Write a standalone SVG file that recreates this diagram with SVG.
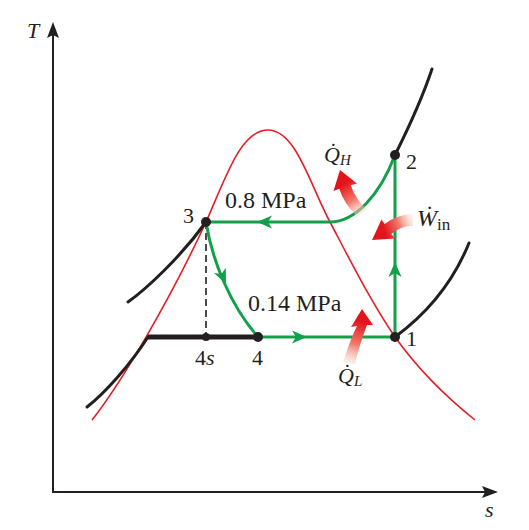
<svg xmlns="http://www.w3.org/2000/svg" xmlns:xlink="http://www.w3.org/1999/xlink" width="529" height="530" viewBox="0 0 529 530">
<style>
.ax{stroke:#231f20;stroke-width:2;fill:none}
.dome{stroke:#e31e24;stroke-width:1.6;fill:none}
.iso{stroke:#231f20;stroke-width:3;fill:none;stroke-linecap:round}
.grn{stroke:#13a04a;stroke-width:3;fill:none}
.lbl{font-family:"Liberation Serif",serif;font-size:22px;fill:#231f20}
.big{font-size:24px}
.it{font-style:italic}
.sub{font-size:15px}
</style>
<defs>
<path id="ah" d="M0,0 L-15,-6.5 L-11,0 L-15,6.5 Z" fill="#13a04a"/>
<linearGradient id="gQH" gradientUnits="userSpaceOnUse" x1="364" y1="215" x2="344" y2="184">
<stop offset="0" stop-color="#fbe3da" stop-opacity="0.3"/><stop offset="0.5" stop-color="#f07a6a"/><stop offset="1" stop-color="#e4141c"/></linearGradient>
<linearGradient id="gW" gradientUnits="userSpaceOnUse" x1="414" y1="218" x2="384" y2="230">
<stop offset="0" stop-color="#fbe3da" stop-opacity="0.3"/><stop offset="0.5" stop-color="#f07a6a"/><stop offset="1" stop-color="#e4141c"/></linearGradient>
<linearGradient id="gQL" gradientUnits="userSpaceOnUse" x1="348" y1="366" x2="362" y2="322">
<stop offset="0" stop-color="#fbe3da" stop-opacity="0.3"/><stop offset="0.5" stop-color="#f07a6a"/><stop offset="1" stop-color="#e4141c"/></linearGradient>
</defs>
<g id="axes">
<path class="ax" d="M53,30 L53,492 L490,492"/>
<path d="M53,22 L59,38 L53,35 L47,38 Z" fill="#231f20"/>
<path d="M498,492 L482,486 L485,492 L482,498 Z" fill="#231f20"/>
<text class="lbl it" x="27" y="38">T</text>
<text class="lbl it" x="485" y="517">s</text>
</g>
<g id="dome">
<path class="dome" d="M92,420 C120,385 170,300 206,222 C225,180 240,130 268,130 C296,130 310,185 330,222 C350,260 370,300 395,337 C420,372 450,400 475,420"/>
</g>
<g id="connectors">
<path class="iso" d="M128,302 C145,290 180,258 206,222"/>
<path class="iso" d="M87,407 C105,393 130,365 148,337"/>
<path class="iso" d="M395,337 C425,315 452,285 469,243"/>
<path class="iso" d="M395,155 C405,135 420,105 432,69"/>
<path d="M148,337 L258,337" stroke="#231f20" stroke-width="5" fill="none"/>
<path d="M206,222 L206,337" stroke="#231f20" stroke-width="1.6" stroke-dasharray="7,4" fill="none"/>
<path class="grn" d="M330,222 L206,222"/>
<path class="grn" d="M330,222 C355,222 380,195 395,155"/>
<path class="grn" d="M395,337 L395,155"/>
<path class="grn" d="M206,222 C212,260 230,305 258,337"/>
<path class="grn" d="M258,337 L395,337"/>
<use xlink:href="#ah" transform="translate(257,222) rotate(180)"/>
<use xlink:href="#ah" transform="translate(307,337)"/>
<use xlink:href="#ah" transform="translate(395,262) rotate(-90)"/>
<use xlink:href="#ah" transform="translate(226,284) rotate(66)"/>
</g>
<g id="heat-arrows">
<path d="M340,170 L333.5,191 L339.3,188.8 Q344,204 357.2,216.6 L366.8,209.4 Q355,198 350.7,185.2 L357,183.5 Z" fill="url(#gQH)"/>
<path d="M372,240 L381.5,219.5 L384.7,224 Q398,214 413,214 L413,226 Q402,225 391.3,234 L395,238.5 Z" fill="url(#gW)"/>
<path d="M362,309 L351,327 L357,326 Q349,342 343,363 L355,364 Q360,343 367,325 L373,325 Z" fill="url(#gQL)"/>
</g>
<g id="n3"><circle cx="206" cy="222" r="5" fill="#231f20"/><text class="lbl" x="183" y="223">3</text></g>
<g id="n2"><circle cx="395" cy="155" r="5" fill="#231f20"/><text class="lbl" x="406" y="169">2</text></g>
<g id="n1"><circle cx="395" cy="337" r="5" fill="#231f20"/><text class="lbl" x="406" y="346">1</text></g>
<g id="n4"><circle cx="258" cy="337" r="5" fill="#231f20"/><text class="lbl" x="252" y="365">4</text></g>
<g id="n4s"><circle cx="206" cy="337" r="4" fill="#231f20"/><text class="lbl" x="195" y="365">4<tspan class="it">s</tspan></text></g>
<g id="p-high"><text class="lbl big" x="225" y="208">0.8 MPa</text></g>
<g id="p-low"><text class="lbl big" x="248" y="311">0.14 MPa</text></g>
<g id="QH"><text class="lbl it" x="324" y="162">Q̇<tspan class="sub" dy="3">H</tspan></text></g>
<g id="Win"><text class="lbl it" x="417" y="226" style="font-size:24px">Ẇ<tspan class="sub" style="font-style:normal;font-size:17px" dy="4">in</tspan></text></g>
<g id="QL"><text class="lbl it" x="338" y="383">Q̇<tspan class="sub" dy="3">L</tspan></text></g>
</svg>
